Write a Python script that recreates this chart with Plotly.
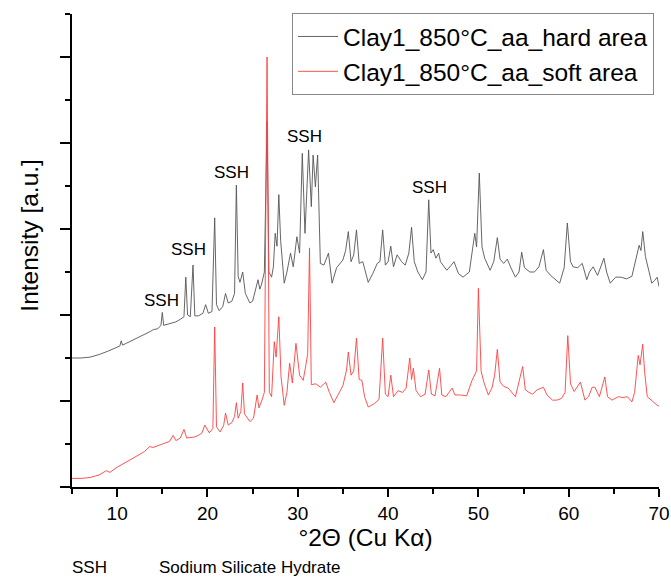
import plotly.graph_objects as go

# ---- data (2theta in degrees, intensity in arbitrary offset units) ----
hard_x = [5.0, 6.0, 7.0, 8.0, 9.0, 10.0, 10.3, 10.45, 10.6, 11.0, 12.0, 13.0, 13.7, 14.0, 14.5, 14.85,
          15.0, 15.15, 15.5, 16.0, 16.5, 17.0, 17.4, 17.6, 17.8, 18.1, 18.4, 18.6, 19.0, 19.5, 19.8,
          20.1, 20.5, 20.8, 21.0, 21.3, 21.7, 22.0, 22.3, 22.7, 23.0, 23.2, 23.4, 23.6, 23.9, 24.2,
          24.7, 25.0, 25.3, 25.6, 25.8, 26.0, 26.3, 26.6, 26.8, 27.1, 27.3, 27.5, 27.7, 27.9, 28.1,
          28.5, 28.8, 29.2, 29.5, 29.9, 30.2, 30.5, 30.8, 31.2, 31.5, 31.7, 31.95, 32.2, 32.5, 32.9,
          33.4, 33.8, 34.3, 35.0, 35.3, 35.6, 35.9, 36.2, 36.5, 36.8, 37.2, 37.8, 38.3, 38.8, 39.1,
          39.4, 39.7, 40.0, 40.3, 40.6, 41.0, 41.5, 41.9, 42.3, 42.6, 42.9, 43.3, 43.8, 44.2, 44.5,
          44.75, 45.0, 45.3, 45.6, 45.8, 46.1, 46.5, 47.0, 47.3, 47.8, 48.3, 49.0, 49.6, 49.8, 50.1,
          50.4, 50.7, 51.3, 51.7, 52.1, 52.4, 52.8, 53.2, 53.6, 54.1, 54.5, 54.8, 55.1, 55.7, 56.2,
          56.7, 57.2, 57.5, 58.0, 58.5, 59.0, 59.5, 59.85, 60.2, 60.5, 61.0, 61.5, 62.0, 62.3, 62.7,
          63.2, 63.9, 64.2, 64.6, 65.2, 65.8, 66.4, 67.0, 67.4, 67.8, 68.0, 68.2, 68.5, 68.8, 69.2,
          69.5, 69.8, 70.0]
hard_y = [1.50, 1.50, 1.51, 1.54, 1.58, 1.62, 1.64, 1.70, 1.65, 1.67, 1.72, 1.77, 1.81, 1.83, 1.84, 1.88,
          2.03, 1.88, 1.89, 1.90, 1.92, 1.95, 1.98, 2.44, 2.00, 1.98, 2.58, 1.99, 1.99, 2.02, 2.12,
          2.02, 2.04, 3.13, 2.12, 2.05, 2.10, 2.25, 2.14, 2.16, 2.25, 3.51, 2.45, 2.38, 2.50, 2.25,
          2.14, 2.16, 2.28, 2.41, 2.30, 2.36, 2.50, 4.25, 2.50, 2.44, 2.56, 2.95, 2.80, 3.40, 2.87,
          2.37, 2.50, 2.72, 2.56, 2.91, 2.72, 3.88, 2.95, 3.92, 3.26, 3.86, 3.49, 3.86, 2.60, 2.58,
          2.72, 2.37, 2.55, 2.64, 2.75, 2.97, 2.62, 2.70, 2.99, 2.60, 2.62, 2.38, 2.48, 2.60, 2.62,
          2.99, 2.58, 2.62, 2.80, 2.56, 2.70, 2.62, 2.58, 2.72, 3.02, 2.62, 2.50, 2.41, 2.50, 3.34,
          2.72, 2.76, 2.66, 2.72, 2.62, 2.58, 2.52, 2.58, 2.62, 2.48, 2.44, 2.50, 2.95, 2.79, 3.65,
          2.79, 2.66, 2.52, 2.62, 2.90, 2.65, 2.60, 2.65, 2.55, 2.44, 2.50, 2.73, 2.55, 2.50, 2.50,
          2.56, 2.76, 2.52, 2.46, 2.41, 2.37, 2.55, 3.07, 2.62, 2.56, 2.55, 2.60, 2.41, 2.50, 2.56,
          2.46, 2.66, 2.50, 2.37, 2.44, 2.44, 2.42, 2.45, 2.62, 2.81, 2.75, 2.97, 2.68, 2.55, 2.37,
          2.40, 2.44, 2.33]

soft_x = [5.0, 6.0, 7.0, 8.0, 8.8, 9.2, 10.0, 11.0, 12.0, 13.0, 13.6, 14.0, 15.0, 15.8, 16.2, 16.5,
          17.0, 17.4, 17.7, 18.5, 19.0, 19.4, 19.7, 20.2, 20.6, 20.8, 21.0, 21.4, 21.8, 22.0, 22.3,
          22.7, 23.0, 23.2, 23.4, 23.7, 23.9, 24.1, 24.7, 25.1, 25.5, 25.7, 26.0, 26.3, 26.6, 26.85,
          27.1, 27.4, 27.6, 27.9, 28.15, 28.5, 28.8, 29.1, 29.4, 29.8, 30.2, 30.6, 30.9, 31.1, 31.3,
          31.5, 32.0, 32.5, 33.1, 33.5, 34.0, 34.5, 35.0, 35.4, 35.6, 35.9, 36.2, 36.5, 36.8, 37.1,
          37.4, 37.8, 38.5, 39.0, 39.4, 39.7, 40.0, 40.3, 40.6, 41.1, 41.6, 42.0, 42.4, 42.6, 42.8,
          43.1, 43.6, 44.1, 44.5, 44.8, 45.2, 45.7, 45.95, 46.4, 47.1, 47.4, 48.0, 48.7, 49.3, 49.8,
          50.0, 50.3, 50.6, 51.1, 51.5, 51.8, 52.1, 52.4, 52.8, 53.3, 53.7, 54.1, 54.9, 55.2, 55.6,
          56.0, 56.5, 57.2, 57.6, 58.2, 58.7, 59.2, 59.6, 59.9, 60.2, 60.6, 61.3, 61.8, 62.2, 62.6,
          62.9, 63.4, 64.0, 64.3, 64.8, 65.5, 66.0, 66.5, 67.0, 67.3, 67.7, 67.9, 68.2, 68.4, 68.7,
          69.0, 69.4, 69.8, 70.0]
soft_y = [0.10, 0.10, 0.11, 0.14, 0.19, 0.17, 0.23, 0.29, 0.35, 0.41, 0.47, 0.46, 0.50, 0.53, 0.60, 0.54,
          0.57, 0.67, 0.57, 0.58, 0.60, 0.63, 0.72, 0.63, 0.68, 1.86, 0.70, 0.64, 0.72, 0.86, 0.72,
          0.75, 0.82, 0.98, 0.80, 0.88, 1.21, 0.85, 0.76, 0.80, 1.07, 0.92, 1.00, 1.10, 5.00, 1.10,
          1.05, 1.69, 1.51, 1.98, 1.28, 0.95, 1.10, 1.44, 1.21, 1.67, 1.30, 1.24, 1.42, 1.55, 2.78,
          1.19, 1.20, 1.16, 1.22, 1.10, 0.98, 1.08, 1.18, 1.36, 1.57, 1.30, 1.35, 1.73, 1.25, 1.24,
          1.05, 0.93, 0.97, 1.02, 1.73, 1.08, 1.05, 1.30, 1.05, 1.12, 1.10, 1.15, 1.50, 1.25, 1.38,
          1.12, 1.05, 1.08, 1.36, 1.08, 1.06, 1.38, 1.07, 1.05, 1.15, 1.07, 1.07, 1.06, 1.24, 1.35,
          2.31, 1.35, 1.22, 1.07, 1.15, 1.30, 1.60, 1.22, 1.17, 1.15, 1.10, 1.05, 1.40, 1.13, 1.10,
          1.08, 1.13, 1.16, 1.07, 1.01, 1.01, 1.03, 1.10, 1.76, 1.20, 1.11, 1.22, 1.01, 1.05, 1.16,
          1.16, 1.05, 1.28, 1.05, 1.01, 1.05, 1.04, 1.05, 0.99, 1.10, 1.53, 1.42, 1.66, 1.35, 1.05,
          1.02, 0.98, 0.95, 0.94]

series_names = ["Clay1_850°C_aa_hard area", "Clay1_850°C_aa_soft area"]
series_colors = ["#555555", "#ff4040"]

ssh_x = [14.9, 17.95, 22.7, 30.8, 44.6]
ssh_y = [2.17, 2.76, 3.66, 4.07, 3.48]
ssh_label = "SSH"

x_title = "°2Θ (Cu Kα)"
y_title = "Intensity [a.u.]"
footnote_abbr = "SSH"
footnote_text = "Sodium Silicate Hydrate"

FONT = "Liberation Sans, Arial, sans-serif"

fig = go.Figure()
fig.add_trace(go.Scatter(x=hard_x, y=hard_y, mode="lines", name=series_names[0],
                         line=dict(color=series_colors[0], width=0.9)))
fig.add_trace(go.Scatter(x=soft_x, y=soft_y, mode="lines", name=series_names[1],
                         line=dict(color=series_colors[1], width=0.9)))

for xv, yv in zip(ssh_x, ssh_y):
    fig.add_annotation(x=xv, y=yv, xref="x", yref="y", text=ssh_label, showarrow=False,
                       font=dict(family=FONT, size=17, color="black"))

# y-axis title (placed slightly above centre, as in the reference)
fig.add_annotation(x=-0.072, y=0.533, xref="paper", yref="paper", text=y_title,
                   showarrow=False, textangle=-90, xanchor="center", yanchor="middle",
                   font=dict(family=FONT, size=24.5, color="black"))

fig.add_annotation(x=-0.004, y=-0.171, xref="paper", yref="paper", text=footnote_abbr,
                   showarrow=False, xanchor="left", yanchor="middle",
                   font=dict(family=FONT, size=17, color="black"))
fig.add_annotation(x=0.1448, y=-0.171, xref="paper", yref="paper", text=footnote_text,
                   showarrow=False, xanchor="left", yanchor="middle",
                   font=dict(family=FONT, size=17, color="black"))

fig.update_layout(
    width=671, height=577,
    margin=dict(l=72, r=12, t=14, b=90, autoexpand=False),
    paper_bgcolor="white", plot_bgcolor="white",
    font=dict(family=FONT, color="black"),
    showlegend=True,
    legend=dict(x=0.9915, y=1.002, xanchor="right", yanchor="top",
                bordercolor="#888888", borderwidth=1, bgcolor="white",
                font=dict(family=FONT, size=24.5, color="black"),
                tracegroupgap=0, itemwidth=40),
    xaxis=dict(range=[5, 70], tick0=0, dtick=10, showgrid=False, zeroline=False,
               showline=True, linecolor="black", linewidth=2, automargin=False,
               ticks="outside", ticklen=8, tickwidth=2, tickcolor="black",
               minor=dict(dtick=5, tick0=0, ticks="outside", ticklen=5, tickwidth=2, tickcolor="black"),
               tickfont=dict(family=FONT, size=19, color="black"),
               title=dict(text=x_title, font=dict(family=FONT, size=24.5, color="black"), standoff=0)),
    yaxis=dict(range=[0, 5.5], tick0=0, dtick=1, showgrid=False, zeroline=False,
               showline=True, linecolor="black", linewidth=2, showticklabels=False, automargin=False,
               ticks="outside", ticklen=10, tickwidth=2, tickcolor="black",
               minor=dict(dtick=0.5, tick0=0, ticks="outside", ticklen=5, tickwidth=2, tickcolor="black")),
)

fig.write_html("out.html")
